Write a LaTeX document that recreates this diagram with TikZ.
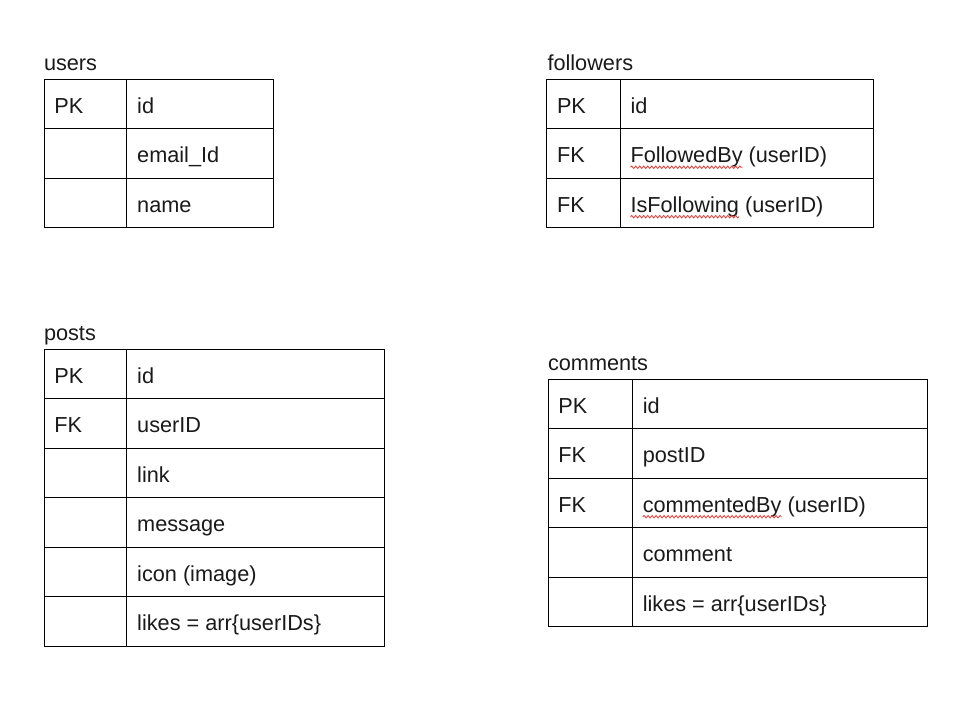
\documentclass[tikz,border=0pt]{standalone}
\usepackage{fontspec}
\setmainfont{Liberation Sans}
\usetikzlibrary{decorations.pathmorphing}
\definecolor{ink}{HTML}{1A1A1A}
\definecolor{spell}{HTML}{E53935}
\tikzset{
  grid/.style={draw=black, line width=1pt},
  txt/.style={anchor=base west, inner sep=0pt, outer sep=0pt, text=ink,
    font=\fontsize{21.7}{26}\selectfont},
  ttl/.style={txt},
  squig/.style={draw=spell, line width=0.8pt, decorate,
    decoration={snake, amplitude=1.2pt, segment length=4pt}},
}
\newcommand\dbtable[7]{%
  % #1 name, #2 title, #3 x0, #4 xm, #5 x1, #6 ytop, #7 rows K/F
  \foreach \k/\f [count=\i] in {#7} {
    \pgfmathsetmacro\yt{-(#6)-(\i-1)*49.45}
    \draw[grid] (#3,\yt) rectangle (#4,\yt-49.45);
    \draw[grid] (#4,\yt) rectangle (#5,\yt-49.45);
    \node[txt] (#1-\i-k) at (#3+10.3,\yt-34) {\k};
    \node[txt] (#1-\i-f) at (#4+10.5,\yt-34) {\f};
  }
}
\begin{document}
\begin{tikzpicture}[x=1pt,y=1pt]
\fill[white] (0,0) rectangle (979,-719);
\useasboundingbox (0,0) rectangle (979,-719);

% users
\node[ttl] (users-t) at (44,-70.5) {users};
\dbtable{u}{}{44}{126.7}{273.3}{79.3}{PK/id, /email\_Id, /name}

% followers
\node[ttl] (followers-t) at (547.5,-70.5) {followers};
\dbtable{f}{}{546.7}{620}{873.3}{79.3}{PK/id, FK/, FK/}
\node[txt] (fby) at (f-2-f.base west) {FollowedBy};
\node[txt] (fbyr) at (fby.base east) {\ (userID)};
\node[txt] (isf) at (f-3-f.base west) {IsFollowing};
\node[txt] (isfr) at (isf.base east) {\ (userID)};
\draw[squig] ([yshift=-4.5pt]fby.base west) -- ([yshift=-4.5pt]fby.base east);
\draw[squig] ([yshift=-4.5pt]isf.base west) -- ([yshift=-4.5pt]isf.base east);

% posts
\node[ttl] (posts-t) at (44,-340.5) {posts};
\dbtable{p}{}{44}{126.7}{384.3}{349.3}{PK/id, FK/userID, /link, /message, /icon (image), /likes = arr\{userIDs\}}

% comments
\node[ttl] (comments-t) at (548,-370.5) {comments};
\dbtable{c}{}{548}{632.3}{927.7}{379.3}{PK/id, FK/postID, FK/, /comment, /likes = arr\{userIDs\}}
\node[txt] (cby) at (c-3-f.base west) {commentedBy};
\node[txt] (cbyr) at (cby.base east) {\ (userID)};
\draw[squig] ([yshift=-4.5pt]cby.base west) -- ([yshift=-4.5pt]cby.base east);
\end{tikzpicture}
\end{document}
